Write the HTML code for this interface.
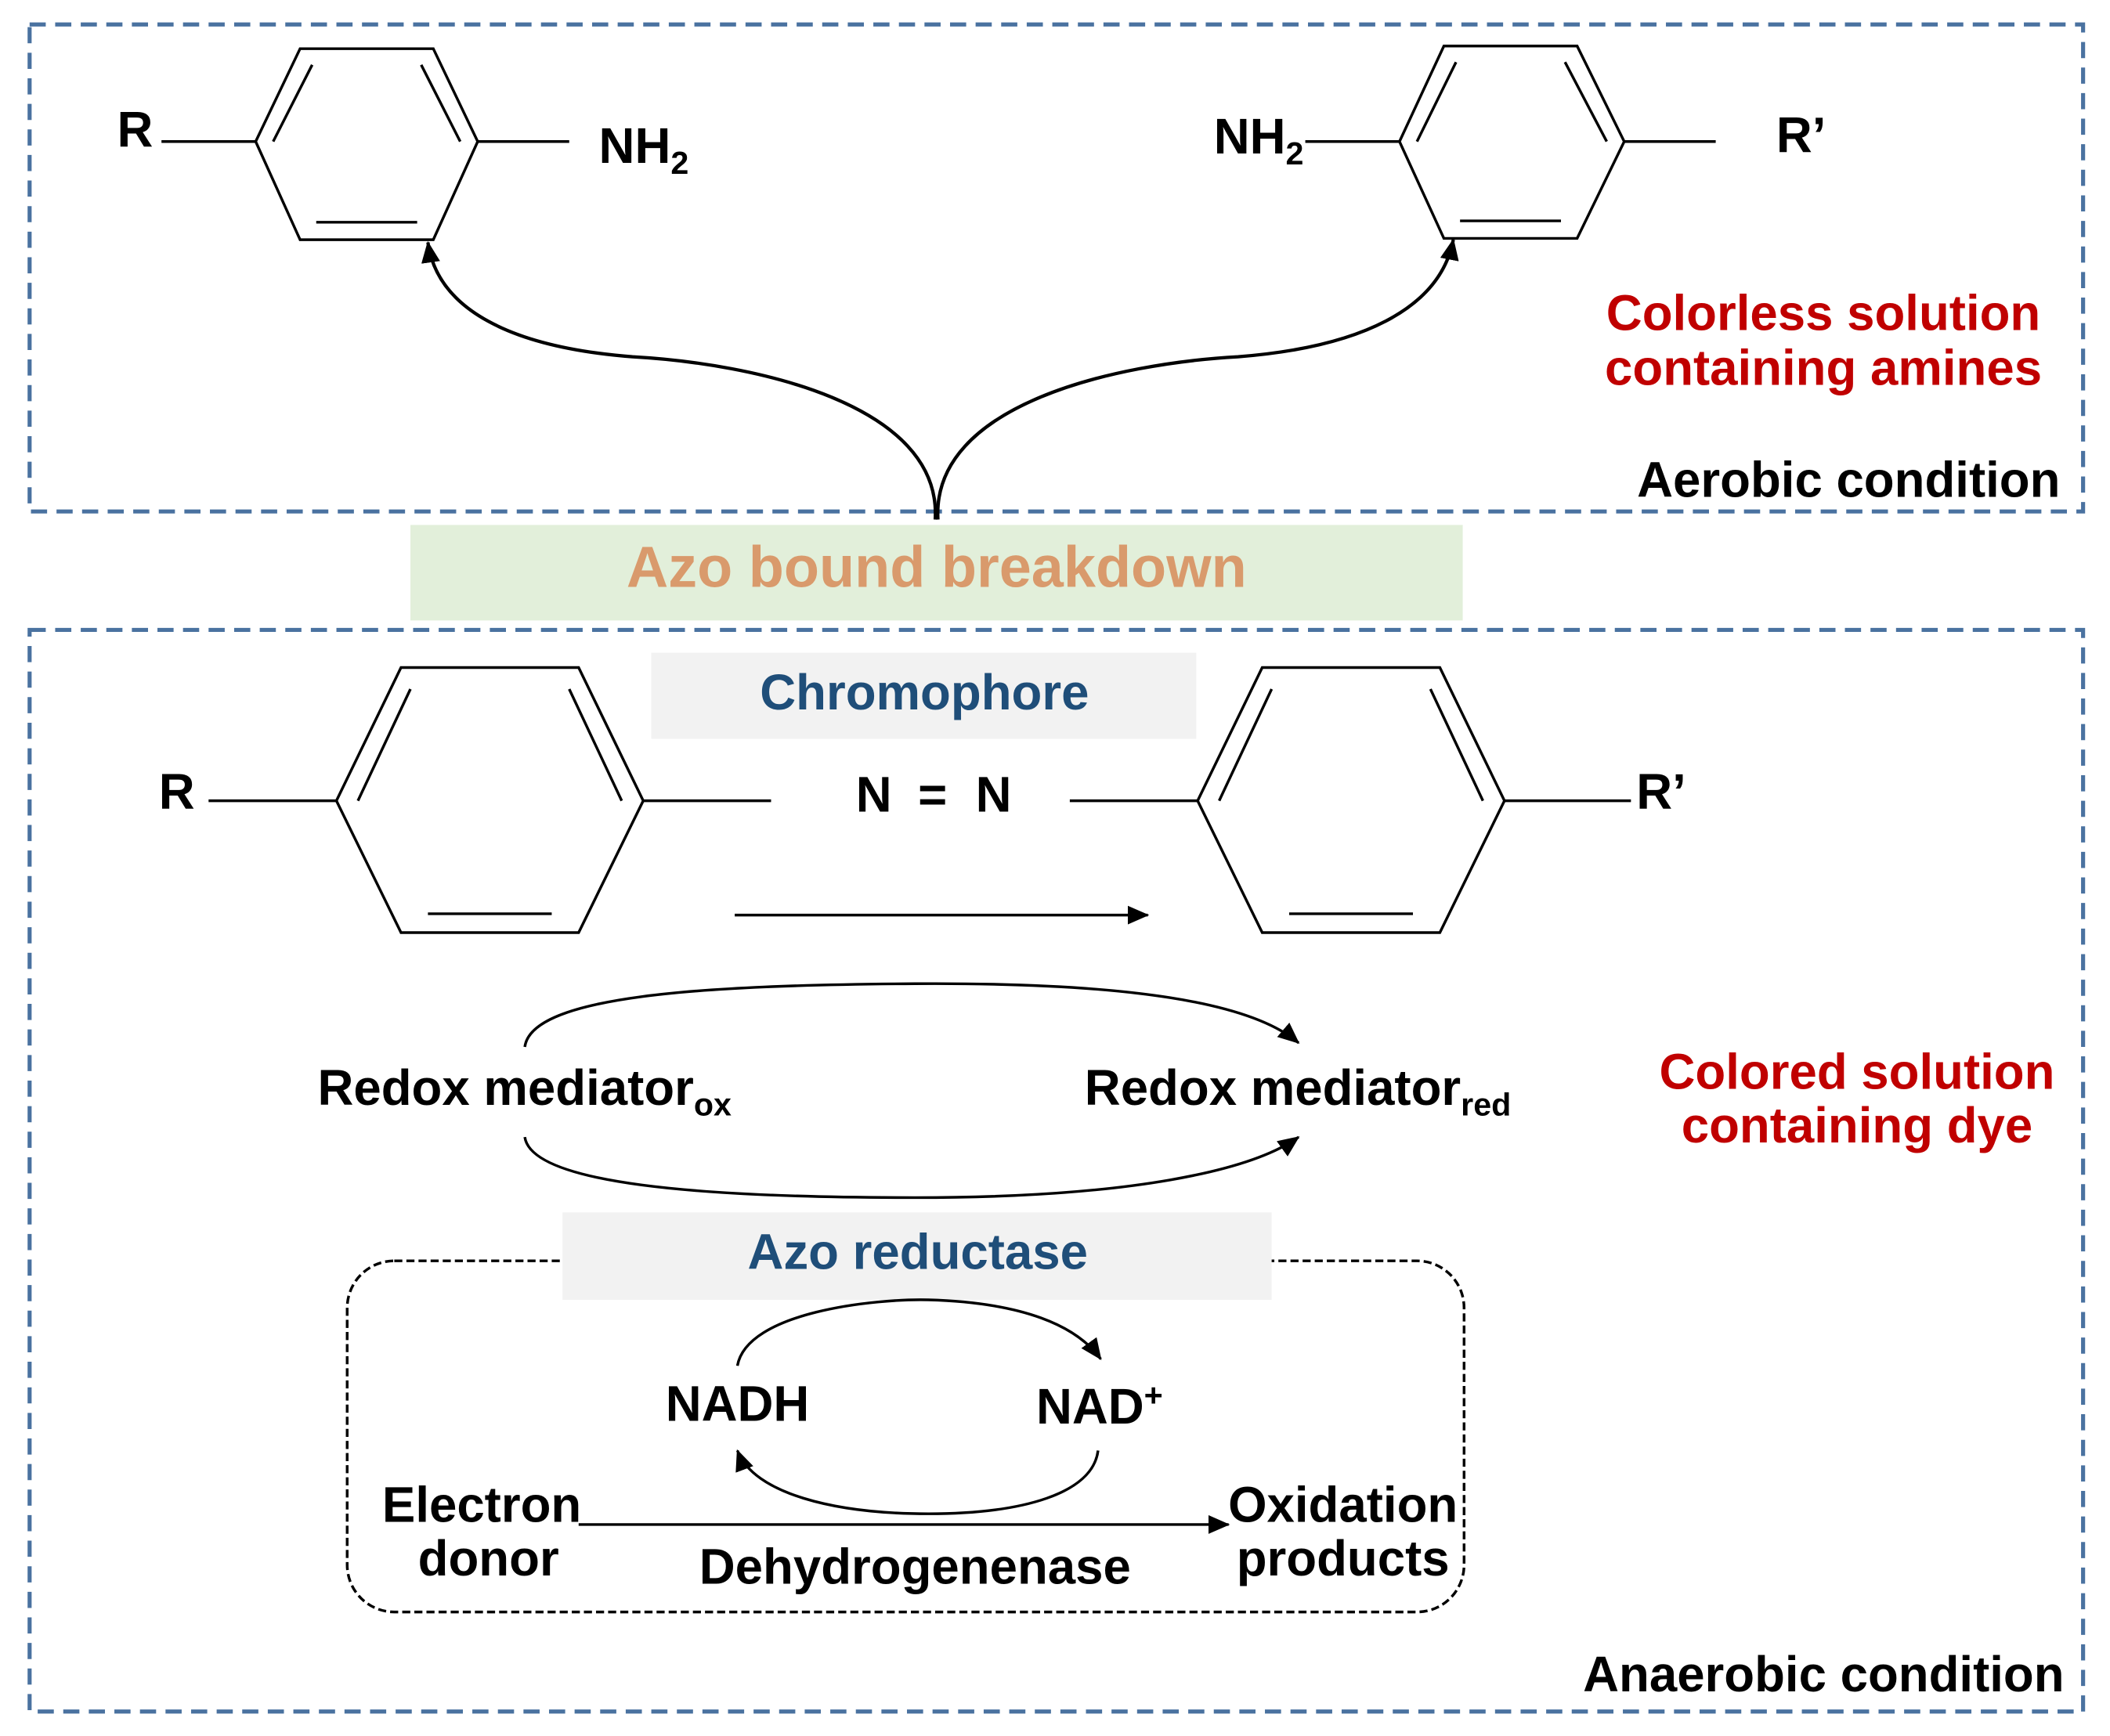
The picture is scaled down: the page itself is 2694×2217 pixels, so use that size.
<!DOCTYPE html>
<html><head><meta charset="utf-8"><style>
html,body{margin:0;padding:0;background:#fff;}
svg{display:block;}
text{font-family:"Liberation Sans",Arial,sans-serif;font-weight:bold;}
</style></head><body>
<svg width="2694" height="2217" viewBox="0 0 1568 1290" xmlns="http://www.w3.org/2000/svg">
<defs>
<marker id="ahs" markerWidth="16" markerHeight="14" refX="15" refY="7" orient="auto" markerUnits="userSpaceOnUse" viewBox="0 0 16 14">
<path d="M0,0 L16,7 L0,14 z" fill="#000"/></marker>
</defs>
<rect width="1568" height="1290" fill="#fff"/>
<rect x="22" y="18" width="1526" height="362" fill="none" stroke="#4a72a0" stroke-width="3" stroke-dasharray="12,7"/>
<rect x="22" y="468" width="1526" height="804" fill="none" stroke="#4a72a0" stroke-width="3" stroke-dasharray="12,7"/>
<rect x="305" y="390" width="782" height="71" fill="#e2efda"/>
<text x="696" y="436" font-size="43" fill="#d99a6c" text-anchor="middle">Azo bound breakdown</text>

<g stroke="#000" stroke-width="2" fill="none">
<polygon points="190,105 223,36 322,36 355,105 322,178 223,178"/>
<line x1="203" y1="105" x2="232" y2="48"/><line x1="313" y1="48" x2="342" y2="105"/><line x1="235" y1="165" x2="310" y2="165"/>
<line x1="120" y1="105" x2="190" y2="105"/><line x1="355" y1="105" x2="423" y2="105"/>
<polygon points="1040,105 1073,34 1172,34 1207,105 1172,177 1073,177"/>
<line x1="1053" y1="105" x2="1082" y2="46"/><line x1="1163" y1="46" x2="1194" y2="105"/><line x1="1085" y1="164" x2="1160" y2="164"/>
<line x1="970" y1="105" x2="1040" y2="105"/><line x1="1207" y1="105" x2="1275" y2="105"/>
<path d="M695,386 C700,300 560,270 470,265 C380,258 325,230 318,180" stroke-width="2.5" marker-end="url(#ahs)"/>
<path d="M697,386 C692,300 830,270 920,265 C1010,258 1070,230 1080,178" stroke-width="2.5" marker-end="url(#ahs)"/>
<polygon points="250,595 298,496 430,496 478,595 430,693 298,693"/>
<line x1="266" y1="595" x2="305" y2="512"/><line x1="423" y1="512" x2="462" y2="595"/><line x1="318" y1="679" x2="410" y2="679"/>
<line x1="155" y1="595" x2="250" y2="595"/><line x1="478" y1="595" x2="573" y2="595"/>
<polygon points="890,595 938,496 1070,496 1118,595 1070,693 938,693"/>
<line x1="906" y1="595" x2="945" y2="512"/><line x1="1063" y1="512" x2="1102" y2="595"/><line x1="958" y1="679" x2="1050" y2="679"/>
<line x1="795" y1="595" x2="890" y2="595"/><line x1="1118" y1="595" x2="1212" y2="595"/>
<line x1="546" y1="680" x2="853" y2="680" marker-end="url(#ahs)"/>
<path d="M390,778 C395,740 520,732 680,731 C840,730 930,745 965,775" marker-end="url(#ahs)"/>
<path d="M390,845 C395,880 520,890 680,890 C840,890 930,870 965,845" marker-end="url(#ahs)"/>
<rect x="258" y="937" width="830" height="261" rx="35" stroke-width="2" stroke-dasharray="6,3"/>
</g>
<rect x="484" y="485" width="405" height="64" fill="#f2f2f2"/>
<text x="687" y="527" font-size="37" fill="#1f4e79" text-anchor="middle">Chromophore</text>
<rect x="418" y="901" width="527" height="65" fill="#f2f2f2"/>
<text x="682" y="943" font-size="37" fill="#1f4e79" text-anchor="middle">Azo reductase</text>
<g stroke="#000" stroke-width="2" fill="none">
<path d="M548,1015 C555,975 650,965 690,966 C760,968 800,985 818,1010" marker-end="url(#ahs)"/>
<path d="M816,1078 C812,1110 760,1125 690,1125 C620,1125 560,1110 548,1078" marker-end="url(#ahs)"/>
<line x1="430" y1="1133" x2="913" y2="1133" marker-end="url(#ahs)"/>
</g>
<g font-size="37" fill="#000">
<text x="87" y="109">R</text>
<text x="445" y="121">NH<tspan font-size="24" dy="8">2</tspan></text>
<text x="902" y="114">NH<tspan font-size="24" dy="8">2</tspan></text>
<text x="1320" y="113">R’</text>
<text x="1531" y="369" text-anchor="end">Aerobic condition</text>
<text x="118" y="601">R</text>
<text x="636" y="603">N</text><text x="693" y="603" text-anchor="middle">=</text><text x="725" y="603">N</text>
<text x="1216" y="601">R’</text>
<text x="236" y="821">Redox mediator<tspan font-size="24" dy="8">ox</tspan></text>
<text x="806" y="821">Redox mediator<tspan font-size="24" dy="8">red</tspan></text>
<text x="548" y="1056" text-anchor="middle">NADH</text>
<text x="770" y="1058">NAD<tspan font-size="24" dy="-13">+</tspan></text>
<text x="358" y="1131" text-anchor="middle">Electron</text>
<text x="363" y="1171" text-anchor="middle">donor</text>
<text x="998" y="1131" text-anchor="middle">Oxidation</text>
<text x="998" y="1171" text-anchor="middle">products</text>
<text x="680" y="1177" text-anchor="middle">Dehydrogenenase</text>
<text x="1534" y="1257" text-anchor="end">Anaerobic condition</text>
</g>
<g font-size="37" fill="#c00000" text-anchor="middle">
<text x="1355" y="245">Colorless solution</text>
<text x="1355" y="286">containing amines</text>
<text x="1380" y="809">Colored solution</text>
<text x="1380" y="849">containing dye</text>
</g>
</svg>
</body></html>
